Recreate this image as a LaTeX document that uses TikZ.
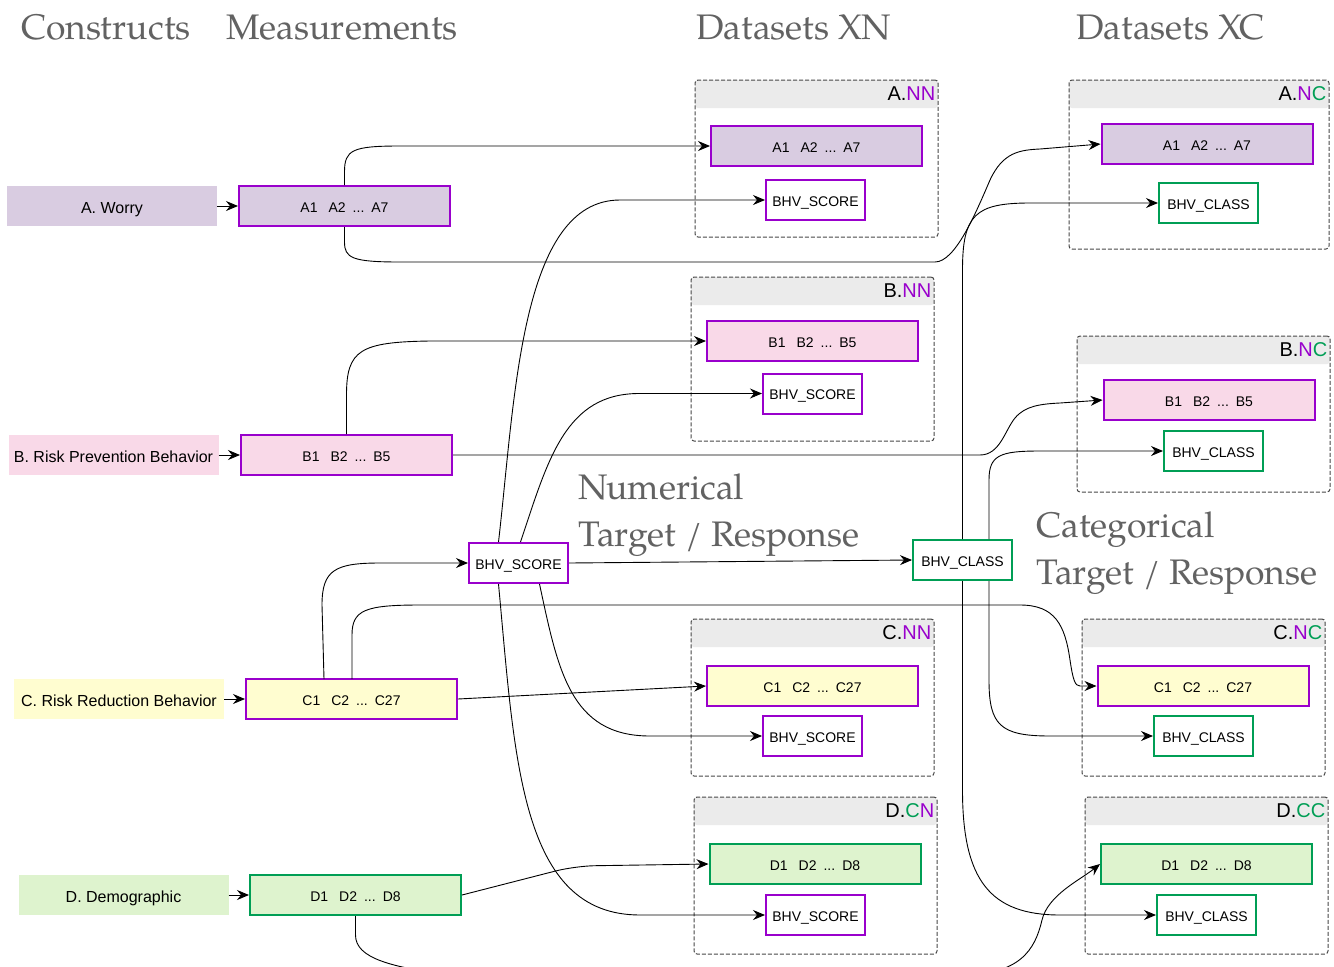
\documentclass[tikz,border=0pt]{standalone}
\usepackage{fontspec}
\setmainfont{Liberation Sans}
\newfontfamily\headfont{TeX Gyre Pagella}
\usetikzlibrary{arrows.meta}
\definecolor{pur}{RGB}{153,0,204}
\definecolor{grn}{RGB}{0,158,85}
\definecolor{fA}{RGB}{217,204,225}
\definecolor{fB}{RGB}{249,217,232}
\definecolor{fC}{RGB}{255,253,208}
\definecolor{fD}{RGB}{222,243,206}
\definecolor{hdr}{RGB}{235,235,235}
\definecolor{headgray}{RGB}{98,98,98}
\tikzset{
  construct/.style={minimum width=210pt, minimum height=40pt, inner sep=0pt, text height=14.5pt, text depth=0pt, font=\fontsize{16}{18}\selectfont},
  meas/.style={draw, line width=2pt, minimum width=211pt, minimum height=40pt, inner sep=0pt, text height=12.5pt, text depth=0pt, font=\fontsize{14}{16}\selectfont},
  target/.style={draw, line width=2pt, fill=white, minimum width=99pt, minimum height=40pt, inner sep=0pt, text height=12.5pt, text depth=0pt, font=\fontsize{14}{16}\selectfont},
  container/.style={draw=black!72, line width=1pt, dash pattern=on 4pt off 2pt, rounded corners=3pt, inner sep=0pt,
     path picture={\fill[hdr] (path picture bounding box.north west) rectangle ([yshift=-28pt]path picture bounding box.north east);}},
  ctitle/.style={anchor=north east, inner sep=0pt, font=\fontsize{20}{22}\selectfont},
  heading/.style={anchor=base west, inner sep=0pt, text=headgray, font=\headfont\fontsize{35.5}{38}\selectfont},
  conn/.style={-{Stealth[length=12pt,width=10pt,inset=4pt]}, line width=0.9pt},
}
\newcommand{\items}[3]{#1\hspace{11pt}#2\hspace{7pt}...\hspace{7pt}#3}
\begin{document}
\begin{tikzpicture}[x=1pt,y=-1pt]
\useasboundingbox (0,0) rectangle (1334,967);
\fill[white] (0,0) rectangle (1334,967);

% headings
\node[heading] (h1) at (21,39) {Constructs};
\node[heading] (h2) at (226,39) {Measurements};
\node[heading] (h3) at (696,39) {Datasets XN};
\node[heading] (h4) at (1076,39) {Datasets XC};
\node[heading] (h5) at (578,499) {Numerical};
\node[heading] (h6) at (578,546) {Target / Response};
\node[heading] (h7) at (1036,537) {Categorical};
\node[heading] (h8) at (1036,584) {Target / Response};

% containers
\node[container, minimum width=243pt, minimum height=157pt] (XA) at (816.5,158.5) {};
\node[container, minimum width=243pt, minimum height=164pt] (XB) at (812.5,359) {};
\node[container, minimum width=243pt, minimum height=157pt] (XC) at (812.5,697.5) {};
\node[container, minimum width=243pt, minimum height=157pt] (XD) at (815.5,875.5) {};
\node[container, minimum width=260pt, minimum height=169pt] (YA) at (1199,164.5) {};
\node[container, minimum width=253pt, minimum height=156pt] (YB) at (1203.5,414) {};
\node[container, minimum width=243pt, minimum height=157pt] (YC) at (1203.5,697.5) {};
\node[container, minimum width=243pt, minimum height=157pt] (YD) at (1206.5,875.5) {};

\node[ctitle] (tXA) at ([xshift=-3pt,yshift=-7pt]XA.north east) {A.\textcolor{pur}{NN}};
\node[ctitle] (tXB) at ([xshift=-3pt,yshift=-7pt]XB.north east) {B.\textcolor{pur}{NN}};
\node[ctitle] (tXC) at ([xshift=-3pt,yshift=-7pt]XC.north east) {C.\textcolor{pur}{NN}};
\node[ctitle] (tXD) at ([xshift=-3pt,yshift=-7pt]XD.north east) {D.\textcolor{grn}{C}\textcolor{pur}{N}};
\node[ctitle] (tYA) at ([xshift=-3pt,yshift=-7pt]YA.north east) {A.\textcolor{pur}{N}\textcolor{grn}{C}};
\node[ctitle] (tYB) at ([xshift=-3pt,yshift=-7pt]YB.north east) {B.\textcolor{pur}{N}\textcolor{grn}{C}};
\node[ctitle] (tYC) at ([xshift=-3pt,yshift=-7pt]YC.north east) {C.\textcolor{pur}{N}\textcolor{grn}{C}};
\node[ctitle] (tYD) at ([xshift=-3pt,yshift=-7pt]YD.north east) {D.\textcolor{grn}{CC}};

% constructs
\node[construct, fill=fA] (cA) at (112,206) {A. Worry};
\node[construct, fill=fB] (cB) at (113.5,455) {B. Risk Prevention Behavior};
\node[construct, fill=fC] (cC) at (119,699) {C. Risk Reduction Behavior};
\node[construct, fill=fD] (cD) at (123.5,895) {D. Demographic};

% measurements
\node[meas, draw=pur, fill=fA] (mA) at (344.5,206) {\items{A1}{A2}{A7}};
\node[meas, draw=pur, fill=fB] (mB) at (346.5,455) {\items{B1}{B2}{B5}};
\node[meas, draw=pur, fill=fC] (mC) at (351.5,699) {\items{C1}{C2}{C27}};
\node[meas, draw=grn, fill=fD] (mD) at (355.5,895) {\items{D1}{D2}{D8}};

% middle targets
\node[target, draw=pur] (sc) at (518.5,563) {BHV\_SCORE};
\node[target, draw=grn] (cl) at (962.5,560) {BHV\_CLASS};

% XN contents
\node[meas, draw=pur, fill=fA] (nA) at (816.5,146) {\items{A1}{A2}{A7}};
\node[target, draw=pur] (nAs) at (815.5,200) {BHV\_SCORE};
\node[meas, draw=pur, fill=fB] (nB) at (812.5,341) {\items{B1}{B2}{B5}};
\node[target, draw=pur] (nBs) at (812.5,393.5) {BHV\_SCORE};
\node[meas, draw=pur, fill=fC] (nC) at (812.5,686) {\items{C1}{C2}{C27}};
\node[target, draw=pur] (nCs) at (812.5,736) {BHV\_SCORE};
\node[meas, draw=grn, fill=fD] (nD) at (815,864) {\items{D1}{D2}{D8}};
\node[target, draw=pur] (nDs) at (815.5,915) {BHV\_SCORE};

% XC contents
\node[meas, draw=pur, fill=fA] (kA) at (1207,144) {\items{A1}{A2}{A7}};
\node[target, draw=grn] (kAc) at (1208.5,203) {BHV\_CLASS};
\node[meas, draw=pur, fill=fB] (kB) at (1209,400) {\items{B1}{B2}{B5}};
\node[target, draw=grn] (kBc) at (1213.5,451) {BHV\_CLASS};
\node[meas, draw=pur, fill=fC] (kC) at (1203,686) {\items{C1}{C2}{C27}};
\node[target, draw=grn] (kCc) at (1203.5,736) {BHV\_CLASS};
\node[meas, draw=grn, fill=fD] (kD) at (1206.5,864) {\items{D1}{D2}{D8}};
\node[target, draw=grn] (kDc) at (1206.5,915) {BHV\_CLASS};

% construct -> measurement
\draw[conn] (cA) -- (mA);
\draw[conn] (cB) -- (mB);
\draw[conn] (cC) -- (mC);
\draw[conn] (cD) -- (mD);

% A
\draw[conn] (mA.north) -- (344.5,172) .. controls (344.5,150) and (352,146) .. (400,146) -- (nA.west);
\draw[conn] (mA.south) -- (344.5,242) .. controls (344.5,258) and (352,262) .. (400,262) -- (935,262)
   .. controls (955,262) and (975,215) .. (990,180) .. controls (1003,152) and (1020,150) .. (1040,149) -- (kA.west);
% B
\draw[conn] (mB.north) -- (346.5,395) .. controls (346.5,350) and (360,342) .. (430,341) -- (nB.west);
\draw[conn] (mB.east) -- (980,455) .. controls (1000,455) and (1005,430) .. (1015,418) .. controls (1025,406) and (1040,404) .. (1060,403) -- (kB.west);
% C
\draw[conn] (324,679) -- (322,605) .. controls (322,570) and (335,563) .. (380,563) -- (sc.west);
\draw[conn] (352,679) -- (352,635) .. controls (352,610) and (365,605) .. (420,605) -- (1020,605)
   .. controls (1055,605) and (1065,625) .. (1070,660) .. controls (1073,680) and (1075,686) .. (1080,686) -- (kC.west);
\draw[conn] (mC.east) -- (nC.west);
% D
\draw[conn, rounded corners=20pt] (mD.east) -- (575,866) -- (nD.west);
\draw[conn] (mD.south) -- (355.5,935) .. controls (355.5,958) and (390,967) .. (450,975) -- (960,975)
   .. controls (1020,975) and (1035,950) .. (1042,920) .. controls (1048,895) and (1080,880) .. (kD.west);

% BHV_SCORE connectors
\draw[conn] ([xshift=-20pt]sc.north) .. controls (515,400) and (520,200) .. (620,200) -- (nAs.west);
\draw[conn] ([xshift=2pt]sc.north) .. controls (548,460) and (565,393) .. (640,393.5) -- (nBs.west);
\draw[conn] ([xshift=21pt]sc.south) .. controls (558,670) and (570,736) .. (650,736) -- (nCs.west);
\draw[conn] ([xshift=-20pt]sc.south) .. controls (515,760) and (520,915) .. (640,915) -- (nDs.west);
\draw[conn] (sc.east) -- (cl.west);

% BHV_CLASS connectors
\draw[conn] (cl.north) -- (962.5,270) .. controls (962.5,215) and (975,203) .. (1030,203) -- (kAc.west);
\draw[conn] ([xshift=26.5pt]cl.north) -- (989,480) .. controls (989,455) and (1000,451) .. (1040,451) -- (kBc.west);
\draw[conn] ([xshift=26.5pt]cl.south) -- (989,680) .. controls (989,725) and (1000,736) .. (1050,736) -- (kCc.west);
\draw[conn] (cl.south) -- (962.5,790) .. controls (962.5,880) and (990,915) .. (1060,915) -- (kDc.west);
\end{tikzpicture}
\end{document}
